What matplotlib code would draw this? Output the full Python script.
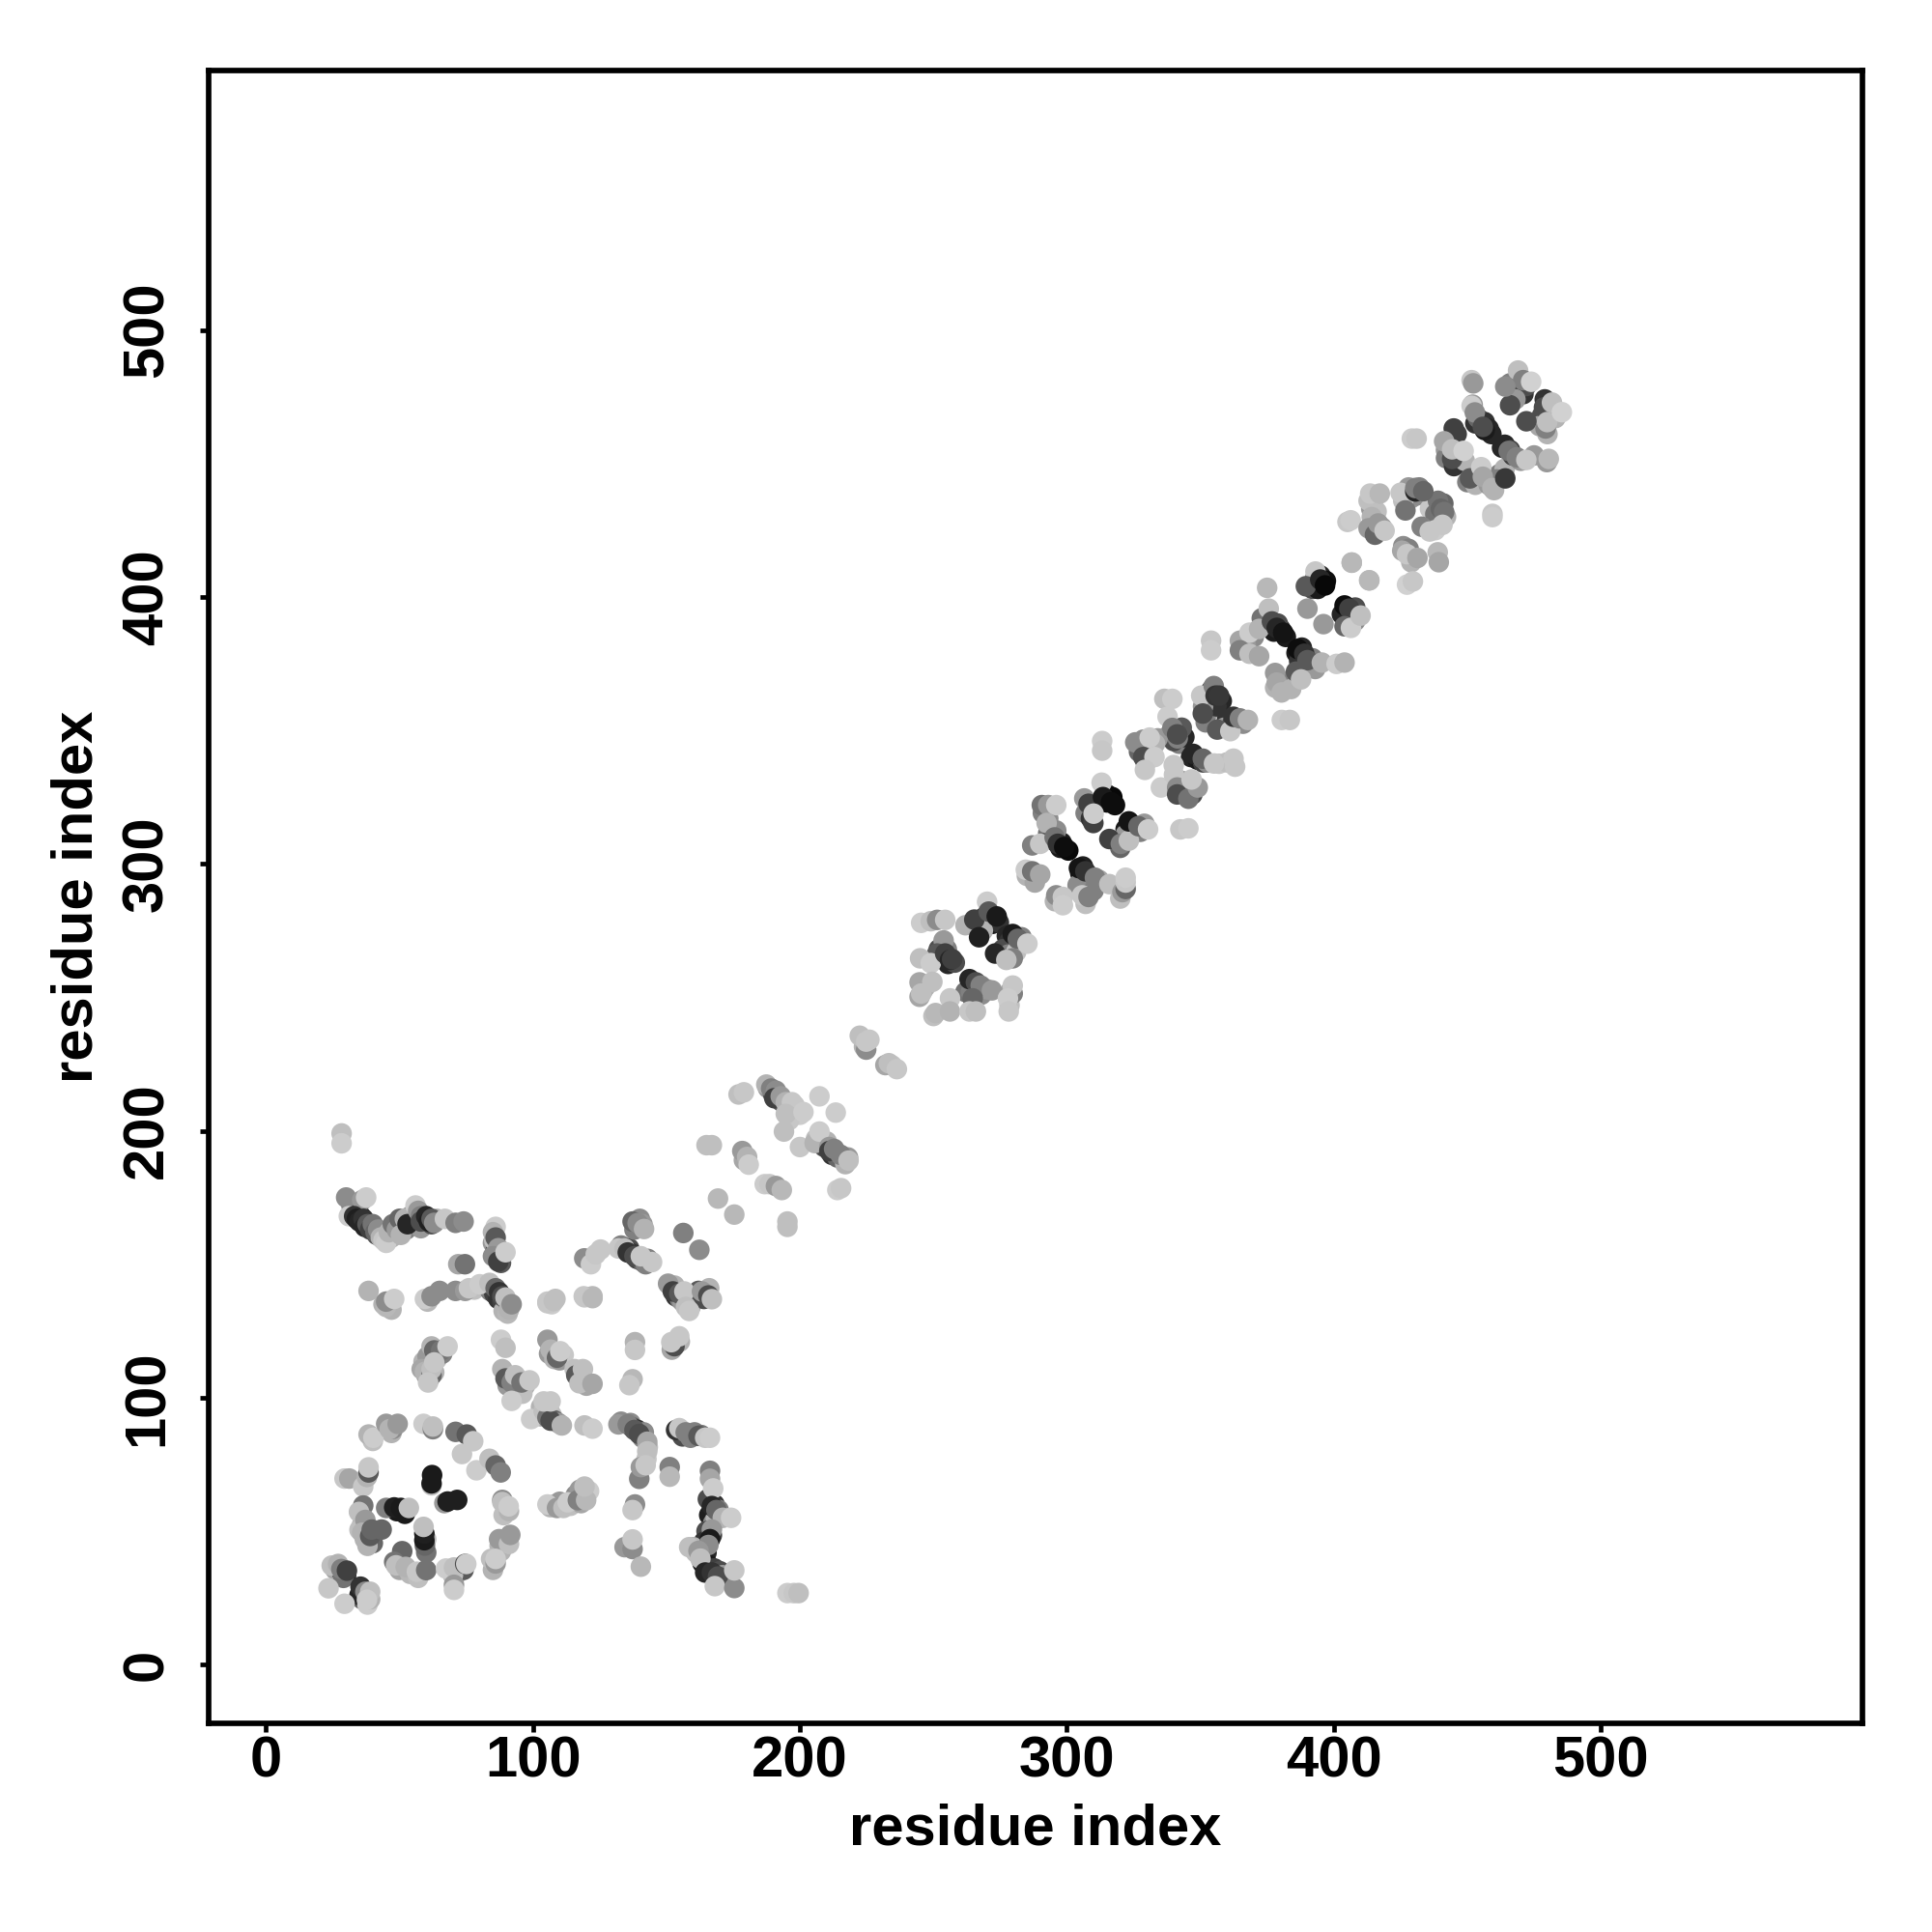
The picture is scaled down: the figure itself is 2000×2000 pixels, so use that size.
import matplotlib
matplotlib.use("Agg")
import matplotlib.pyplot as plt

# Each entry: residue i, residue j, grey level of the contact
band_under = [(32,172,.5),(34,170,.3),(35.5,168,.1),(37,166,.12),(38.5,164,.1),(40,163,.15),(41.5,161,.3),(43,162,.5),(44,160,.6),(45.5,160,.7),(47,160,.7),(48,164,.35),(49.5,165,.3),(51,165,.2),(52.5,163,.5),(54,168,.6),(55,166,.35),(56,168,.2),(57,167,.1),(59,167,.1),(60,166,.2),(58,163.5,.6),(62,165,.3),(64,167,.7),(85,158,.6),(86,155,.3),(88,154,.5),(85.5,159,.75),(88,150.5,.35)]
band_top = [(28.3,199,.75),(28.3,195.3,.8),(30,175,.55),(36,174,.6),(37.5,175,.8),(31,168,.8),(33,168,.2),(34,167,.12),(35,166,.15),(36.5,167,.2),(37,164,.15),(38,165,.35),(39,163,.25),(40,165,.45),(41,162,.4),(42,163,.55),(43,160,.7),(44,159,.78),(45,158,.8),(46,162,.7),(47.5,165,.45),(49,163,.6),(50,167,.4),(50.5,161,.7),(52,167,.7),(53,165,.15),(56,172,.8),(57,170,.6),(58,168,.5),(58,166,.3),(60,168,.15),(61,166,.12),(62,167,.35),(63,165.5,.55),(67,167,.78),(71,165.5,.5),(74,166,.55)]
mid_under = [(65,140,.55),(78,140.5,.75),(84,140,.5),(85.5,139,.25),(87,137,.2),(88.5,136,.25),(90,134.5,.5),(89,132.5,.7),(91,135,.4),(90.5,131.5,.72),(47,133,.7),(44,135,.7),(60.5,136,.72),(107,135,.8)]
band_mid = [(86,164,.8),(85,162,.7),(86,160,.35),(87,156,.6),(85,153,.55),(87,151,.25),(89.7,154.5,.8),(72,150,.65),(74.5,150,.45),(38.4,140,.7),(45,134,.72),(45,136,.55),(48,137,.8),(59.5,137,.8),(62,138,.55),(71,140,.55),(74.6,140,.6),(76,141,.78),(80,142.5,.8),(83.7,143,.75),(86,141,.4),(87.3,139.5,.2),(88.5,138,.3),(89.7,137.5,.75),(91,133,.7),(92,135,.55),(105.4,136,.78),(108.4,137,.75),(119,138,.78),(122.3,138,.72)]
cross_under = [(59,113.5,.7),(60.5,115.5,.6),(64,114.5,.75),(60,108.5,.6),(61,107,.35),(63,109.5,.7),(66,116.5,.5),(90,108.5,.5),(91,107.5,.25),(93.5,105,.45),(95,106.5,.6),(97,104.5,.7),(90.5,104.5,.6),(94,103.5,.7),(96,101.5,.75),(103,96.5,.7),(104.5,93.5,.3),(106,95.5,.7),(107,93.5,.75),(108,91.5,.4),(109.5,90.5,.6),(103,93,.7),(117,108.5,.5),(118,106,.6),(120,104.5,.65),(106,116.5,.6),(108,114.5,.7),(110,114,.6),(111.5,116,.78)]
cross_left = [(62,119.2,.7),(63,117.7,.4),(65.6,117.7,.45),(68,119.2,.8),(58.3,110.7,.65),(59.5,109.7,.7),(62,108.4,.4),(62,110.7,.75),(60.7,105.7,.78),(63,113.2,.78),(88,121.7,.8),(89.7,118.7,.75),(88.5,110.7,.7),(89.7,107.2,.35),(92,105.7,.5),(93.3,108.4,.75),(95.7,105.7,.45),(98.7,106.5,.78),(92,98.8,.8),(105.4,121.7,.6),(106.6,118,.7),(109,115,.4),(110.2,117.4,.8),(115.6,110.7,.75),(116.2,108.4,.35),(118.7,110.7,.75),(117.4,105.4,.75),(122.3,105.2,.65),(99.3,92,.8),(104,95,.75),(105.4,92.6,.45),(106.6,91.4,.3),(104,98.6,.78),(106.6,98.6,.78),(110.8,89.6,.7),(119.3,89.6,.75),(122.3,88.4,.8)]
ring_under = [(47,86.8,.7),(47.5,88.3,.55),(40,83.8,.75),(36,52.5,.7),(35,50.5,.75),(37,47,.7),(40,45.5,.4),(38,44.5,.7),(60,42,.45),(50,35.5,.65),(54,34,.72),(57,32.5,.75),(26,35.5,.65),(28.5,34.5,.2),(30,33.5,.15),(29,32.5,.45),(36,24.5,.4),(35,26,.15),(38,22.5,.8),(39,24.5,.7),(72,34.5,.7),(74,35.5,.35),(70,33.5,.75),(49,57.5,.1),(52,56.5,.1),(60,47,.75),(85,35.5,.7),(87.5,44.5,.7),(88,42.5,.7),(90,45.5,.6),(89,56,.75),(91,57.5,.7)]
ring = [(38.4,86.2,.7),(40.2,85,.8),(45,90.2,.6),(46.3,88.2,.7),(49.3,90.2,.6),(59,90.2,.8),(62.5,88.2,.5),(62.5,89.2,.75),(71,87.2,.45),(75.2,86.2,.35),(77.6,83.7,.78),(73.4,78.9,.78),(78.8,72.8,.8),(83.7,77.1,.75),(86,74.6,.4),(87.9,72,.5),(88.5,61.7,.55),(88.5,60.9,.75),(90.9,59.3,.8),(87.3,47,.6),(91,45.2,.75),(91.5,48.6,.6),(84.3,39.6,.75),(86,37.9,.6),(86,39.6,.8),(29.4,69.7,.78),(31.2,69.7,.65),(36.4,66.7,.78),(37.8,70.3,.7),(38.4,72,.35),(38.4,73.9,.78),(62,67.2,.75),(62,67.9,.1),(62.2,71,.1),(66.8,60.5,.6),(68,61.1,.12),(71.6,61.7,.12),(45,58.7,.5),(48,58.9,.12),(50.5,58.7,.1),(53.5,58.7,.75)]
ring_low = [(36.4,59.6,.45),(34.8,57.2,.75),(37.2,54.2,.6),(36,49.4,.7),(39,48.2,.35),(39.6,50.6,.4),(43.3,50.6,.4),(59.5,44.6,.4),(59.3,46.6,.1),(59.3,49.1,.12),(59,51.6,.75),(51,42.5,.4),(48,38.5,.45),(48.7,37.2,.75),(52.3,36.6,.7),(56.5,34.8,.78),(60,35.4,.45),(67.4,36,.8),(70.4,36.4,.75),(74.6,37.7,.3),(75,37.7,.8),(70.4,29.9,.6),(70.4,28,.8),(24.6,37.1,.75),(27,37.7,.7),(28.2,35.8,.5),(30.3,35.2,.25),(23.4,28.6,.78),(29.4,22.8,.8),(35.4,29.2,.2),(37.2,27.3,.55),(39,27.3,.75),(37.8,24.3,.8)]
middle_under = [(133,157,.5),(136,156,.3),(137,154,.2),(139,152,.25),(141,151,.4),(143,152,.5),(138,163,.5),(140,167,.55),(141,165,.6),(152,141,.3),(153.5,138,.2),(155,137,.5),(156,136,.6),(153,142,.7),(159,134,.7),(161,139,.5),(162,140,.35),(164,137,.3),(165,140,.6),(166,141,.7),(152,118,.65),(155,121,.7)]
middle = [(119.2,152.2,.55),(121.7,150,.8),(123.5,153.7,.78),(125.3,155.5,.78),(137.3,166,.4),(139.2,165.4,.55),(141.6,163.2,.7),(132,155.9,.78),(134.3,155.9,.75),(135.5,154.4,.2),(138,153,.3),(142.2,150,.5),(140.4,153,.78),(144.6,150.8,.78),(150.6,142.7,.6),(152.4,139.8,.25),(154.8,139,.35),(156.7,139.8,.78),(157.3,134,.75),(158.5,132.5,.78),(163.3,139.8,.6),(165.7,138.3,.3),(167,136.9,.75),(105.4,135.4,.78),(107.8,136.2,.75),(119.3,137.6,.78),(122.3,137.3,.72),(153,119.3,.3),(151.8,120.8,.78),(154.8,123,.78),(138.2,120.8,.7),(138.2,117.9,.78),(137.3,106.9,.72),(136.1,104.7,.78)]
lower_under = [(133,91,.55),(136.5,90.5,.55),(137,89,.3),(139,88,.2),(141,85,.5),(141.5,87,.55),(143,81.5,.75),(142.5,77,.78),(156,85.5,.3),(159,85,.5),(160.5,87,.5),(163,86,.45),(165.5,62,.3),(166,56,.12),(168,60,.2),(169.5,58,.5),(170,56,.6),(167.5,53,.55),(168.5,55,.7),(165,50,.3),(164,46,.2),(167,48.5,.25),(163,43,.5),(165,42,.15),(163.5,38,.12),(165.5,37.5,.1),(166.5,36,.2),(168,36,.25),(170,35,.3),(171,33.5,.6),(160,44,.7),(161,42,.75),(106.5,59,.7),(108,60,.75),(110,61,.6),(114,59.5,.75),(116,63.5,.55),(117.5,65.5,.6),(118,60.5,.65),(121,65,.8)]
lower = [(132,90,.6),(135.5,90,.5),(138,87.9,.35),(139.8,86.4,.3),(142.8,83.5,.65),(142.8,79.9,.75),(139.8,69.6,.5),(140.4,74,.6),(142.2,74.7,.78),(151.2,74,.5),(151.2,70.4,.72),(138.2,60,.55),(137.3,57.9,.78),(134.3,44,.6),(137.3,43.3,.55),(137.3,46.9,.78),(140.4,36.7,.72),(153.6,87.9,.2),(154.8,88.6,.78),(157.2,87,.5),(162,85.7,.35),(164.5,85,.78),(166.3,85,.8),(166.3,72.6,.5),(166.3,69.6,.65),(167.5,66,.8),(167,59.4,.15),(168.7,57.9,.4),(171.1,55,.7),(174.2,55,.8),(167,50.6,.6),(166.3,47,.1),(165.7,44.8,.55),(158.5,44,.75),(162,42.6,.6),(162.7,39.7,.75),(164.5,34.5,.15),(167,34.5,.2),(169.3,33,.3),(168.1,29.4,.78),(175.4,28.7,.55),(175.4,35.3,.78),(195.3,26.8,.8),(197.7,26.8,.78),(199.5,26.8,.75),(105.4,60,.8),(109,58.7,.6),(111.4,58.7,.75),(113,60.8,.8),(116.8,61.6,.5),(119.9,61.6,.72),(119.3,66.7,.75)]
linker_under = [(188,216,.6),(190,213.5,.3),(191.5,213,.2),(193,211,.35),(196,209,.75),(198,209.5,.78),(200,206,.8),(196,204,.78),(206,197,.75),(209,194,.3),(210,196,.7),(212,191,.2),(213.5,191.5,.35),(214,190,.4),(216.5,189.5,.6),(217,187.5,.7),(218,190,.6),(179,189,.65),(224,231.5,.7),(234.5,224.5,.78)]
linker = [(224.8,230.4,.55),(222.4,235.6,.75),(224.8,233.4,.78),(226,234.1,.78),(232,224.6,.65),(233.3,225.3,.75),(236.3,223.1,.78),(177,213.6,.75),(179,214.4,.78),(187.4,217.3,.7),(189.2,215.8,.5),(191,215,.55),(190.4,212.2,.25),(192.8,212.9,.6),(194.7,210.7,.7),(197,210.7,.78),(194.7,206.3,.75),(201.3,207,.8),(194,199.7,.75),(207.3,212.9,.8),(213.4,206.8,.8),(200,193.9,.78),(205.5,195.4,.7),(207.3,199.7,.8),(211,193.9,.6),(211,192.4,.25),(212.8,193.2,.5),(215.2,191,.5),(218.2,188.8,.75),(214,177.8,.8),(215.4,178.5,.78),(165,194.6,.75),(167,194.6,.75),(178.4,192.4,.6),(180.2,190.2,.7),(180.8,187.3,.8),(186.8,180,.8),(188.6,180,.78),(191,179.3,.6),(193.2,177.8,.72),(169.3,174.6,.72),(175.4,168.6,.72),(195.3,166,.75),(195.3,164,.75),(156.3,161.7,.5),(162.3,155.4,.55)]
under_250 = [(252,268,.3),(254,265,.2),(255.5,262.5,.15),(258,263,.3),(255,268,.5),(247,254,.7),(246,252.5,.7),(264,254.5,.2),(266,253,.25),(268,251,.55),(270,253,.6),(262,252,.45),(264,252,.5),(267.5,278,.3),(269,280,.2),(271,279,.15),(272,277.5,.1),(274.5,278,.2),(277.5,273,.15),(278.5,271,.2),(280,270,.4),(282,269.5,.7),(283,272.5,.5),(268.5,275,.7),(276,268,.3),(278,266,.5),(281,267,.75),(262,277,.7),(250,243,.75),(278.5,247,.75),(279,252.5,.65)]
repeat_250 = [(245.4,277.9,.8),(249,278.5,.75),(251.4,279,.55),(254.4,279,.78),(253.8,271.3,.6),(251.4,266.4,.35),(245,264.6,.75),(249,262.8,.8),(254.4,266.4,.25),(256.2,264,.15),(257,264.3,.25),(244.8,255.6,.65),(249.6,255.8,.75),(244.8,250.2,.65),(245.4,251.4,.75),(250.8,244.1,.72),(256.2,249.6,.78),(256.2,244.7,.7),(263.5,256.8,.15),(265.9,255.6,.3),(267.7,254.4,.5),(271.9,252.6,.6),(264.7,249.6,.4),(263.5,244.7,.78),(265.9,244.7,.75),(279.7,251.4,.5),(279.7,254.4,.78),(277.9,249.6,.8),(278.2,244.7,.78),(270.1,285.8,.8),(265.3,279.1,.25),(270.7,282.1,.35),(273.7,280.3,.1),(267.1,272.5,.12),(273.1,266.4,.15),(279.7,273.7,.1),(281.6,271.9,.4),(285.2,270.1,.8),(279.7,264.6,.5),(277.3,264,.75)]
under_290 = [(293,311.5,.45),(294.5,310,.3),(295.5,308.5,.12),(297.5,306,.1),(298,308,.12),(300.5,305,.03),(305,296.5,.1),(306,299,.12),(308.5,295.5,.3),(309,293,.2),(307,291,.3),(304,292,.55),(312,294,.65),(310,290,.5),(312.5,323,.15),(315,326,.1),(317,325,.03),(318,322,.05),(315,323,.05),(307,319,.5),(309,317,.2),(306.5,324.5,.6),(322,313,.1),(325,314,.2),(327.5,312,.5),(322,311,.6),(320,306,.4),(285,295.5,.7),(288,293,.65),(295.5,286,.7),(307,285,.75),(320,287,.75),(329,315,.6),(296,312.5,.55),(293,317,.55),(291,319,.5)]
repeat_290 = [(290.6,322,.45),(293,322,.6),(296,322,.8),(292.4,315.3,.7),(287,306.9,.5),(290,307.5,.78),(295.4,309.9,.45),(296.6,307.5,.2),(299,306.3,.05),(284.6,297.8,.8),(287,297.2,.45),(290,296,.65),(304.5,298.4,.08),(306.9,297.2,.2),(310.5,294.8,.5),(315.9,292.4,.75),(305.7,288.2,.78),(308.1,287.6,.5),(296,288.2,.55),(298.5,287.6,.78),(298.5,284.5,.8),(320.8,289.4,.6),(322,290.6,.4),(322,293,.78),(322,294.8,.8),(313,330.4,.8),(308.1,322.5,.25),(313.5,325,.1),(316.5,323.1,.05),(309.9,315.3,.25),(310,318.8,.8),(315.9,309.3,.25),(320.2,307.5,.5),(323.2,308.7,.75),(323.2,315.9,.08),(326.8,314.1,.4),(330.4,312.9,.8),(342.5,312.9,.78),(345.5,313.3,.8),(313.2,346,.8),(313.2,342.4,.78)]
under_330 = [(342,345,.5),(338,348,.55),(340,346,.3),(342.5,349.5,.4),(344,347.5,.15),(343,351,.35),(341.5,347,.5),(346.5,340,.15),(349,339,.1),(351,338,.25),(352.5,338,.55),(357,337.5,.78),(360,338,.75),(353,357,.6),(352,353,.5),(354,365,.35),(354,361,.25),(358,361,.15),(356,359,.2),(351,359,.6),(360,354,.2),(359,351,.6),(362,352.5,.3),(366,352.5,.55),(334,347,.6),(327,342,.4),(329.5,338,.4),(333,345,.7),(343,331,.5),(345,326,.35),(347,326,.3),(343.5,329,.5),(340,337,.78)]
repeat_330 = [(325.6,345.5,.55),(328.6,346.5,.55),(331,347.3,.8),(328.6,340,.3),(332.8,340,.8),(329.2,335.2,.78),(336.5,361.8,.75),(339.5,361.8,.8),(337.7,355.1,.8),(339.5,350.9,.5),(341.3,348.5,.3),(350.3,363,.78),(350.9,356.3,.3),(355,366.6,.5),(355.7,363,.2),(357,363,.22),(356.3,350.3,.35),(361.2,349.7,.78),(362.4,355.1,.2),(364.8,354.5,.5),(367.8,353.9,.7),(347.3,341.2,.15),(350.9,339.4,.4),(355.1,337.6,.78),(362.4,339.4,.78),(363,336.4,.78),(335.2,328.6,.8),(340.1,333.4,.78),(341.3,328.6,.55),(341.3,326,.3),(345.5,324.4,.45),(349,328.6,.6),(346.7,331.6,.78),(380.5,353.9,.8),(383.5,353.9,.78)]
under_375 = [(373,392,.45),(376,389,.2),(377.5,387,.1),(380,388,.12),(379,390,.3),(382,385,.1),(370,385,.55),(367,382,.6),(386,379,.1),(388,381,.15),(387,376,.2),(392,377,.5),(390,374,.45),(393,373,.6),(381,367,.6),(384,368,.7),(385,370,.5),(393,407,.5),(395,408,.15),(392,403,.3),(397,406,.05),(394,403,.1),(405,394,.12),(403,393.5,.15),(407,394,.4),(408,391,.55),(408,396,.3),(378,366,.7)]
repeat_375 = [(354,383.6,.78),(354,380,.8),(375,403.4,.72),(375.6,395.6,.75),(364.8,383.6,.65),(368.4,386.6,.8),(372,388,.7),(376.8,390.8,.3),(378.6,388.4,.15),(381,386.6,.08),(364.8,380,.5),(368.4,378.7,.75),(372,377.8,.65),(378,371.5,.6),(378.6,367.9,.65),(380.4,364.2,.7),(384,365.5,.7),(386.5,380.5,.05),(388.9,378.7,.2),(390.1,376.3,.35),(395.5,375.4,.7),(385.8,372,.35),(387.7,369.1,.75),(401,374.9,.8),(404,375.4,.7),(393.1,409.5,.78),(389.5,404,.35),(394.9,406.5,.15),(396.7,404.3,.03),(390.1,395.6,.6),(396.1,389.8,.6),(406.7,412.9,.72),(413.3,406.2,.72),(404,396.8,.05),(405.8,395.6,.25),(404,389,.4),(406.4,388.4,.8),(410,393,.75)]
under_430 = [(429,437,.6),(431,438,.55),(426,436,.75),(428,441,.6),(432,441,.5),(436,433,.78),(438,431,.45),(441,435,.4),(439,436,.45),(442,430,.7),(438,425,.8),(414,433,.6),(413,436,.75),(416,432,.75),(426,419,.55),(428,418,.5),(429,413,.7),(418,426,.6)]
repeat_430 = [(413.6,438.7,.78),(417.2,438.7,.72),(405.1,428.1,.78),(406.3,428.7,.8),(414.2,429.9,.7),(413,425.7,.6),(415.4,423.3,.4),(416.6,427.5,.6),(419,424.8,.78),(406.7,412.8,.72),(413.2,406.2,.72),(425,439,.78),(426.8,432.4,.45),(430.5,439.5,.15),(430.5,440.8,.5),(433.5,439.6,.4),(425.6,417.3,.65),(427.4,416,.78),(431.3,414.6,.65),(427.4,404.6,.82),(429.6,405.8,.78),(432.9,426.3,.5),(435.9,424.5,.78),(440.1,433,.4),(441.3,431.8,.45),(440.7,427,.78),(438.9,416.7,.72),(439.3,413,.65)]
under_460 = [(453,465,.2),(454,467,.4),(456.5,465.5,.2),(458,463,.15),(452,472,.6),(459,461,.15),(446,461,.25),(442,455,.6),(442,452,.5),(445,449,.2),(449,451,.7),(446,452.5,.7),(450,443,.5),(453,442,.7),(458,442,.6),(460,440,.7),(462,446,.5),(464,448,.7),(461,444,.5),(464,457,.15),(466,455,.25),(467,453,.25),(470,451,.6),(475,453,.6),(466,480,.5),(468,478,.4),(471,476,.2),(472,479,.3),(479,474,.2),(481,470,.5),(478,468,.3),(483,467,.7),(480,461,.7),(477,464,.65),(468,474,.6)]
repeat_460 = [(429.2,459.3,.8),(431,459.3,.78),(451.6,481.2,.78),(452.2,480,.6),(451.6,471.6,.8),(452.8,469.1,.55),(456.5,462.5,.1),(455.8,463.7,.3),(444.9,463.1,.25),(441.3,458.3,.65),(444.3,451.7,.3),(444.3,455.3,.75),(448.6,454.7,.82),(451,444.4,.35),(455.2,448.6,.8),(455.8,445,.65),(459.4,440.8,.7),(464.2,444.4,.22),(459.4,431.1,.78),(459.4,429.9,.8),(463,455.9,.15),(465.5,454.7,.45),(468.5,452.3,.5),(472.1,451.3,.78),(479.8,450.5,.6),(480.5,451.7,.72),(466,471.8,.3),(472.1,465.8,.3),(469,484.8,.75),(470.9,481.2,.5),(464.2,478.8,.55),(473.9,480.6,.82),(478.7,471,.3),(481.7,472.8,.75),(479.3,463.1,.5),(479.9,465.5,.75),(485.4,469.2,.82)]

clusters = [band_under, band_top, mid_under, band_mid, cross_under, cross_left, ring_under, ring, ring_low,
            middle_under, middle, lower_under, lower, linker_under, linker,
            under_250, repeat_250, under_290, repeat_290, under_330, repeat_330,
            under_375, repeat_375, under_430, repeat_430, under_460, repeat_460]
x_ticks = [0, 100, 200, 300, 400, 500]
y_ticks = [0, 100, 200, 300, 400, 500]
x_label = "residue index"
y_label = "residue index"

plt.rcParams['font.family'] = ['Liberation Sans', 'DejaVu Sans']
plt.rcParams['font.weight'] = 'bold'

fig = plt.figure(figsize=(20, 20), dpi=100)
ax = fig.add_axes([216/2000, 1-1784/2000, (1928-216)/2000, (1784-73)/2000])
for cluster in clusters:
    xs = [p[0] for p in cluster]
    ys = [p[1] for p in cluster]
    cs = [str(p[2]) for p in cluster]
    ax.scatter(xs, ys, c=cs, s=235, linewidths=0, zorder=3)

ax.set_xlim(-21.5, 598.0)
ax.set_ylim(-22.0, 597.2)
ax.set_xticks(x_ticks)
ax.set_yticks(y_ticks)
ax.tick_params(axis='both', length=6.5, width=3.4, labelsize=43)
ax.tick_params(axis='x', pad=2.5)
ax.tick_params(axis='y', pad=19)
for lab in ax.get_yticklabels():
    lab.set_rotation(90)
    lab.set_va('center')
for s in ax.spines.values():
    s.set_linewidth(4.1)
ax.set_xlabel(x_label, fontsize=43, fontweight='bold', labelpad=11)
ax.set_ylabel(y_label, fontsize=43, fontweight='bold', labelpad=13)
fig.savefig("out.png", dpi=100)
